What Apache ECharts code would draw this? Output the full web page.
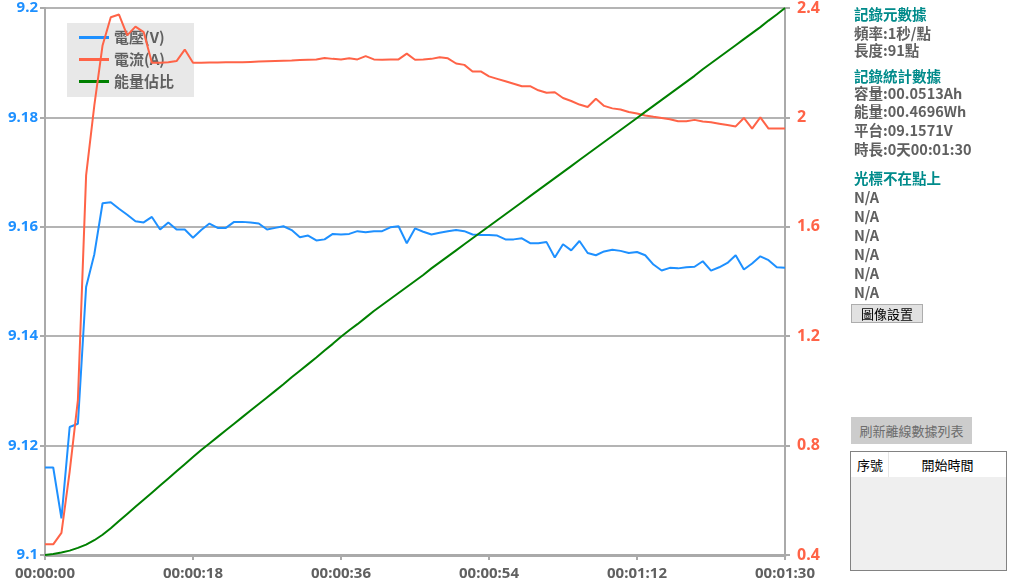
<!DOCTYPE html>
<html><head><meta charset="utf-8">
<script src="https://cdn.jsdelivr.net/npm/echarts@6/dist/echarts.min.js"></script>
<style>
html,body{margin:0;padding:0;background:#fff;overflow:hidden;}
#chart{position:absolute;left:0;top:0;width:1009px;height:582px;}
.p{position:absolute;left:854px;font:bold 14.5px 'Noto Sans CJK TC','Noto Sans',sans-serif;color:#606060;line-height:18px;white-space:nowrap;}
.h{color:#008b8b;}
.btn1{position:absolute;left:851px;top:304px;width:70px;height:17px;background:#e1e1e1;border:1px solid #adadad;font:13px 'Noto Sans CJK TC',sans-serif;color:#000;text-align:center;line-height:17px;}
.btn2{position:absolute;left:851px;top:417px;width:121px;height:27px;background:#cccccc;font:13px 'Noto Sans CJK TC',sans-serif;color:#6d6d6d;text-align:center;line-height:27px;}
.tbl{position:absolute;left:850px;top:451px;width:155px;height:118px;border:1px solid #828282;background:#efefef;}
.thead{position:absolute;left:0;top:0;width:155px;height:25px;background:#fff;font:13px 'Noto Sans CJK TC',sans-serif;color:#000;line-height:25px;}
</style></head><body>
<div id="chart"></div>
<div class="p h" style="top:5px">記錄元數據</div>
<div class="p" style="top:24px">頻率:1秒/點</div>
<div class="p" style="top:41px">長度:91點</div>
<div class="p h" style="top:67px">記錄統計數據</div>
<div class="p" style="top:84px">容量:00.0513Ah</div>
<div class="p" style="top:102px">能量:00.4696Wh</div>
<div class="p" style="top:121px">平台:09.1571V</div>
<div class="p" style="top:140px">時長:0天00:01:30</div>
<div class="p h" style="top:169px">光標不在點上</div>
<div class="p" style="top:188px">N/A</div>
<div class="p" style="top:207px">N/A</div>
<div class="p" style="top:226px">N/A</div>
<div class="p" style="top:245px">N/A</div>
<div class="p" style="top:264px">N/A</div>
<div class="p" style="top:283px">N/A</div>
<div class="btn1">圖像設置</div>
<div class="btn2">刷新離線數據列表</div>
<div class="tbl"><div class="thead"><span style="position:absolute;left:6px">序號</span><span style="position:absolute;left:37px;top:0;width:1px;height:25px;background:#e6e6e6"></span><span style="position:absolute;left:38px;width:117px;text-align:center">開始時間</span></div></div>
<script>
const seriesNames = ['電壓(V)', '電流(A)', '能量佔比'];
const voltage = [9.116,9.116,9.1067,9.1234,9.124,9.149,9.155,9.1643,9.1645,9.1633,
9.1622,9.161,9.1608,9.1618,9.1595,9.1608,9.1595,9.1595,9.158,9.1594,
9.1606,9.1598,9.1598,9.1609,9.1609,9.1608,9.1606,9.1595,9.1598,9.1601,
9.1594,9.1581,9.1584,9.1575,9.1577,9.1587,9.1586,9.1587,9.1592,9.159,
9.1592,9.1592,9.1599,9.1601,9.157,9.1597,9.1591,9.1586,9.1589,9.1592,
9.1594,9.1592,9.1586,9.1585,9.1585,9.1584,9.1577,9.1577,9.1579,9.157,
9.157,9.1572,9.1544,9.1568,9.1557,9.1574,9.1552,9.1548,9.1555,9.1558,
9.1556,9.1552,9.1554,9.1548,9.1531,9.152,9.1525,9.1524,9.1526,9.1527,
9.1537,9.152,9.1526,9.1534,9.1548,9.1522,9.1533,9.1546,9.1539,9.1526,9.1525];
const current = [0.439,0.439,0.481,0.705,0.966,1.788,2.044,2.263,2.366,2.376,
2.30,2.332,2.312,2.20,2.20,2.202,2.206,2.248,2.20,2.200,
2.201,2.201,2.202,2.202,2.202,2.203,2.204,2.205,2.206,2.207,
2.208,2.21,2.211,2.212,2.217,2.214,2.212,2.216,2.212,2.224,
2.212,2.211,2.212,2.212,2.233,2.211,2.212,2.214,2.220,2.216,
2.197,2.192,2.168,2.168,2.15,2.141,2.132,2.123,2.114,2.114,
2.099,2.090,2.092,2.071,2.060,2.047,2.038,2.068,2.042,2.033,
2.029,2.020,2.014,2.007,2.002,1.998,1.993,1.986,1.986,1.991,
1.985,1.982,1.977,1.972,1.967,1.998,1.959,2.000,1.959,1.959,1.959];
const energyPct = [0,0.2,0.45,0.8,1.3,1.9,2.7,3.7,4.9,6.2,
7.5,8.8,10.1,11.4,12.7,14.0,15.3,16.6,17.9,19.2,
20.4,21.6,22.8,24.0,25.2,26.4,27.6,28.8,30.0,31.2,
32.5,33.7,34.9,36.1,37.4,38.6,39.9,41.1,42.2,43.4,
44.6,45.7,46.8,47.9,49.0,50.1,51.2,52.4,53.5,54.6,
55.7,56.8,57.9,59.0,60.1,61.2,62.3,63.4,64.5,65.6,
66.7,67.8,68.9,70.0,71.1,72.2,73.3,74.4,75.5,76.6,
77.7,78.8,79.9,81.0,82.1,83.2,84.3,85.4,86.5,87.6,
88.8,89.9,91.0,92.1,93.2,94.3,95.4,96.5,97.7,98.8,100];
const timeSec = voltage.map((_, i) => i);

function fmt(s){
  const h = Math.floor(s/3600), m = Math.floor((s%3600)/60), ss = s%60;
  const p = n => String(n).padStart(2,'0');
  return p(h)+':'+p(m)+':'+p(ss);
}
const pair = arr => arr.map((v,i)=>[timeSec[i], v]);

const chart = echarts.init(document.getElementById('chart'), null, {renderer:'canvas'});
const axisGray = '#aaaaaa';
const font = "'Noto Sans', 'Noto Sans CJK TC', sans-serif";
chart.setOption({
  animation:false,
  backgroundColor:'#fff',
  textStyle:{fontFamily:font},
  grid:{left:45, right:224, top:8, bottom:27, containLabel:false},
  legend:{
    orient:'vertical', left:67, top:23, z:1,
    backgroundColor:'#e8e8e8', padding:[7,20,8,12], itemGap:7,
    itemWidth:30, itemHeight:3,
    textStyle:{color:'#606060', fontWeight:'bold', fontSize:15, fontFamily:"'Noto Sans CJK TC', sans-serif"},
    data:seriesNames.map(n=>({name:n, icon:'rect'}))
  },
  xAxis:{
    type:'value', min:0, max:90, interval:18,
    axisLine:{lineStyle:{color:axisGray, width:3}},
    axisTick:{show:true, length:5, lineStyle:{color:axisGray, width:2}},
    splitLine:{show:false},
    axisLabel:{color:'#606060', fontWeight:'bold', fontSize:15, margin:11, formatter:v=>fmt(v)}
  },
  yAxis:[
    {type:'value', min:9.1, max:9.2, interval:0.02, position:'left',
     axisLine:{show:true, lineStyle:{color:axisGray, width:2}},
     axisTick:{show:true, length:5, lineStyle:{color:axisGray, width:2}},
     splitLine:{show:true, lineStyle:{color:'#b4b4b4', width:2}},
     axisLabel:{color:'#1e90ff', fontWeight:'bold', fontSize:15, margin:7, formatter:v=>String(+v.toFixed(2))}},
    {type:'value', min:0.4, max:2.4, interval:0.4, position:'right',
     axisLine:{show:true, lineStyle:{color:axisGray, width:2}},
     axisTick:{show:true, length:5, lineStyle:{color:axisGray, width:2}},
     splitLine:{show:false},
     axisLabel:{color:'#ff6347', fontWeight:'bold', fontSize:16, margin:12, formatter:v=>String(+v.toFixed(1))}},
    {type:'value', min:0, max:100, show:false}
  ],
  series:[
    {name:seriesNames[0], type:'line', yAxisIndex:0, data:pair(voltage), showSymbol:false, z:3,
     itemStyle:{color:'#1e90ff'}, lineStyle:{color:'#1e90ff', width:2}},
    {name:seriesNames[1], type:'line', yAxisIndex:1, data:pair(current), showSymbol:false, z:4,
     itemStyle:{color:'#ff6347'}, lineStyle:{color:'#ff6347', width:2}},
    {name:seriesNames[2], type:'line', yAxisIndex:2, data:pair(energyPct), showSymbol:false, z:5,
     itemStyle:{color:'#008000'}, lineStyle:{color:'#008000', width:2}}
  ]
});
</script>
</body></html>
